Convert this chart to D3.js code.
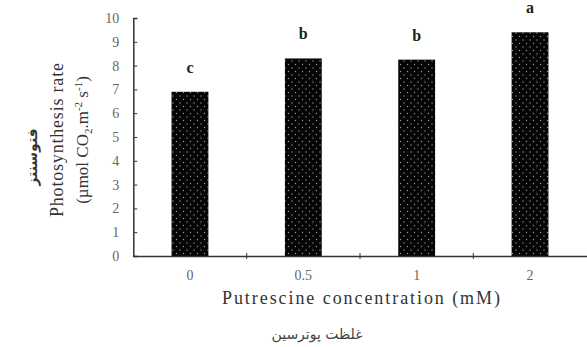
<!DOCTYPE html>
<html>
<head>
<meta charset="utf-8">
<script src="https://cdn.jsdelivr.net/npm/d3@7"></script>
<style>
  body { margin: 0; background: #fff; }
  svg { display: block; }
</style>
</head>
<body>
<svg></svg>
<script>
const width = 587;
const height = 347;
const serif = "'Liberation Serif', 'Times New Roman', 'DejaVu Serif', serif";

// data
const concentrations = ["0", "0.5", "1", "2"];
const rates = [6.9, 8.3, 8.25, 9.4];
const letters = ["c", "b", "b", "a"];
const yTicks = [0, 1, 2, 3, 4, 5, 6, 7, 8, 9, 10];

const svg = d3.select("svg").attr("width", width).attr("height", height);

const x = d3.scaleBand()
  .domain(concentrations)
  .range([133.3, 586.7])
  .paddingInner(0.675)
  .paddingOuter(0.3375);

const y = d3.scaleLinear().domain([0, 10]).range([256, 18]);

// dotted fill like the original
const defs = svg.append("defs");
const pat = defs.append("pattern")
  .attr("id", "dots")
  .attr("patternUnits", "userSpaceOnUse")
  .attr("width", 7)
  .attr("height", 7);
pat.append("rect").attr("width", 7).attr("height", 7).attr("fill", "#050505");
pat.append("circle").attr("cx", 1.5).attr("cy", 1.5).attr("r", 0.7).attr("fill", "#9a9a9a");
pat.append("circle").attr("cx", 5).attr("cy", 5).attr("r", 0.7).attr("fill", "#9a9a9a");

svg.append("g")
  .selectAll("rect")
  .data(rates)
  .join("rect")
  .attr("x", (d, i) => x(concentrations[i]))
  .attr("y", d => y(d))
  .attr("width", x.bandwidth())
  .attr("height", d => y(0) - y(d))
  .attr("fill", "url(#dots)");

svg.append("g")
  .selectAll("text")
  .data(rates)
  .join("text")
  .attr("x", (d, i) => x(concentrations[i]) + x.bandwidth() / 2)
  .attr("y", d => y(d) - 19)
  .attr("text-anchor", "middle")
  .style("font-family", serif)
  .attr("font-weight", "bold")
  .attr("font-size", 16)
  .attr("fill", "#222")
  .text((d, i) => letters[i]);

// y axis
const yAxis = svg.append("g")
  .attr("transform", `translate(${x.range()[0]},0)`)
  .call(d3.axisLeft(y).tickValues(yTicks).tickSize(-4).tickPadding(14).tickSizeOuter(-4));
yAxis.select(".domain").attr("stroke", "#333").attr("stroke-width", 1.5);
yAxis.selectAll(".tick line").attr("stroke", "#333");
yAxis.selectAll("text")
  .style("font-family", serif)
  .style("font-size", "14px")
  .attr("fill", "#666");

// x axis
const xAxis = svg.append("g")
  .attr("transform", `translate(0,${y(0)})`)
  .call(d3.axisBottom(x).tickSize(0).tickPadding(14).tickSizeOuter(0));
xAxis.select(".domain").attr("stroke", "#333").attr("stroke-width", 1.5);
xAxis.selectAll("text")
  .style("font-family", serif)
  .style("font-size", "14px")
  .attr("fill", "#666");

// small ticks between the bars
xAxis.selectAll(".sep")
  .data(concentrations.slice(1))
  .join("line")
  .attr("class", "sep")
  .attr("x1", d => x(d) - x.step() * x.paddingInner() / 2)
  .attr("x2", d => x(d) - x.step() * x.paddingInner() / 2)
  .attr("y1", -3)
  .attr("y2", 3)
  .attr("stroke", "#333");

// axis titles
svg.append("text")
  .attr("x", 361)
  .attr("y", 304)
  .attr("text-anchor", "middle")
  .style("font-family", serif)
  .attr("font-size", 18)
  .attr("fill", "#333")
  .attr("textLength", 278)
  .text("Putrescine concentration (mM)");

svg.append("text")
  .attr("x", 317)
  .attr("y", 339)
  .attr("text-anchor", "middle")
  .style("font-family", "'DejaVu Sans', sans-serif")
  .attr("font-size", 14)
  .attr("fill", "#444")
  .text("غلظت پوترسین");

const yTitle = svg.append("g")
  .attr("transform", "translate(63,140) rotate(-90)")
  .style("font-family", serif)
  .attr("fill", "#333")
  .attr("text-anchor", "middle");

yTitle.append("text")
  .attr("font-size", 18)
  .attr("textLength", 154)
  .text("Photosynthesis rate");

const unit = yTitle.append("text")
  .attr("y", 25)
  .attr("font-size", 17);
unit.append("tspan").text("(µmol CO");
unit.append("tspan").attr("font-size", 11).attr("dy", 4).text("2");
unit.append("tspan").attr("dy", -4).text(".m");
unit.append("tspan").attr("font-size", 11).attr("dy", -6).text("-2");
unit.append("tspan").attr("dy", 6).text(" s");
unit.append("tspan").attr("font-size", 11).attr("dy", -6).text("-1");
unit.append("tspan").attr("dy", 6).text(")");

svg.append("text")
  .attr("transform", "translate(37,157) rotate(-90)")
  .attr("text-anchor", "middle")
  .style("font-family", "'DejaVu Sans', sans-serif")
  .attr("font-weight", "bold")
  .attr("font-size", 14)
  .attr("fill", "#333")
  .text("فتوسنتز");
</script>
</body>
</html>
